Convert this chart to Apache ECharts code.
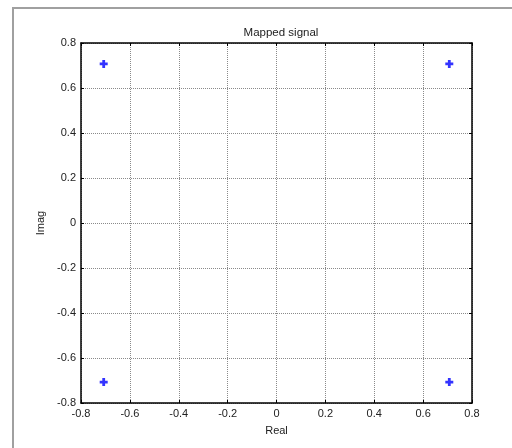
<!DOCTYPE html>
<html><head><meta charset="utf-8">
<script src="https://cdn.jsdelivr.net/npm/echarts@6/dist/echarts.min.js"></script>
<style>html,body{margin:0;padding:0;background:#fff}#c{width:512px;height:448px}</style>
</head><body><div id="c"></div>
<script>
const title = "Mapped signal";
const xName = "Real";
const yName = "Imag";
const realVals = [-0.7071, 0.7071, -0.7071, 0.7071];
const imagVals = [0.7071, 0.7071, -0.7071, -0.7071];
const axisMin = -0.8, axisMax = 0.8, axisStep = 0.2;

const pts = realVals.map((r, i) => [r, imagVals[i]]);
const chart = echarts.init(document.getElementById('c'));
const fontFam = '"Liberation Sans", Arial, sans-serif';
const labelFmt = v => { const r = Math.round(v * 10) / 10; return r === 0 ? '0' : String(r); };
const mkX = (pos, show) => ({
  type: 'value', min: axisMin, max: axisMax, interval: axisStep, position: pos,
  axisLine: { show: true, onZero: false, lineStyle: { color: '#000', width: 1.5 } },
  axisTick: { show: true, inside: true, length: 3, lineStyle: { color: '#000' } },
  axisLabel: { show: show, color: '#222', fontSize: 11, fontFamily: fontFam, margin: 5, formatter: labelFmt },
  splitLine: { show: show, lineStyle: { color: '#8a8a8a', type: [1, 1], width: 1 } },
  name: show ? xName : '', nameLocation: 'middle', nameGap: 22,
  nameTextStyle: { color: '#222', fontSize: 11, fontFamily: fontFam }
});
const mkY = (pos, show) => ({
  type: 'value', min: axisMin, max: axisMax, interval: axisStep, position: pos,
  axisLine: { show: true, onZero: false, lineStyle: { color: '#000', width: 1.5 } },
  axisTick: { show: true, inside: true, length: 3, lineStyle: { color: '#000' } },
  axisLabel: { show: show, color: '#222', fontSize: 11, fontFamily: fontFam, margin: 5, formatter: labelFmt },
  splitLine: { show: show, lineStyle: { color: '#8a8a8a', type: [1, 1], width: 1 } },
  name: show ? yName : '', nameLocation: 'middle', nameGap: 33, nameRotate: 90,
  nameTextStyle: { color: '#222', fontSize: 11, fontFamily: fontFam }
});
chart.setOption({
  animation: false,
  title: { text: title, left: 276, top: 22, textAlign: 'center',
    textStyle: { fontSize: 11.5, fontWeight: 'normal', color: '#222', fontFamily: fontFam } },
  graphic: [{ type: 'rect', shape: { x: 13, y: 8, width: 700, height: 700 },
    style: { fill: 'none', stroke: '#a0a0a0', lineWidth: 2 }, z: -10 }],
  grid: { left: 81, top: 43, width: 391, height: 360 },
  xAxis: [mkX('bottom', true), mkX('top', false)],
  yAxis: [mkY('left', true), mkY('right', false)],
  series: [{
    type: 'scatter', data: pts,
    symbol: 'path://M2.6,0H5.4V2.6H8V5.4H5.4V8H2.6V5.4H0V2.6H2.6Z', symbolSize: 8,
    itemStyle: { color: '#0000ff' }
  }]
});
</script></body></html>
